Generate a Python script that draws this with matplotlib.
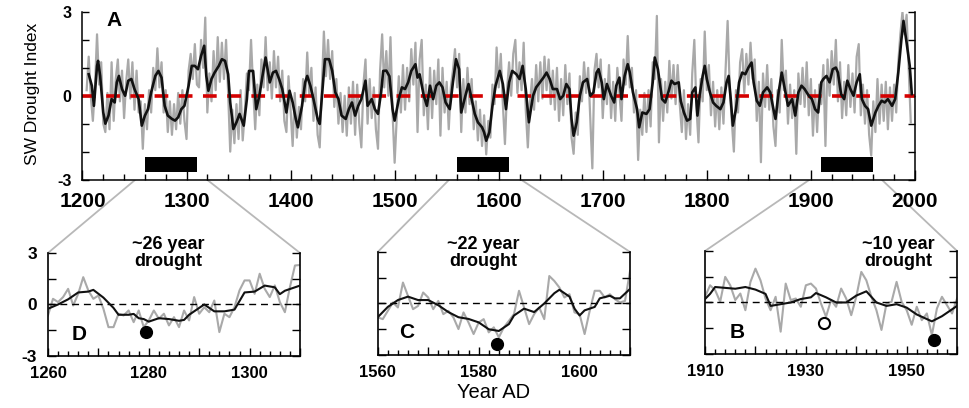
import numpy as np
import matplotlib
matplotlib.use("Agg")
import matplotlib.pyplot as plt
from matplotlib.patches import ConnectionPatch

plt.rcParams['font.family'] = ['Liberation Sans', 'DejaVu Sans']
plt.rcParams['axes.unicode_minus'] = False

# ---- main record (panel A) ----
# annual index, read every 2 years from 1204
gray_start = 1204
gray_vals = [
    0.2, 1.4, 0.0, -0.9, 0.3, 2.2, 0.4, 1.2, -1.0, -1.3, 0.1, -1.2, 1.2, -0.9, 0.6, 1.3, -0.2, 0.9, -0.8, 0.5, 1.3, -0.1, 1.2, -0.5,
    0.9, -0.6, -0.2, -1.9,
    -0.3, -1.2, 0.2, -0.6, 1.0, 0.2, 1.7, 0.3, 1.2, -0.6, 0.2, -1.3, -0.2, -1.4, -0.3, -1.2, 0.1, -1.0, 0.2, -0.9, -1.55, 0.9, 1.5, 0.6, 1.85, 0.4,
    0.3, 2.0, 1.0, 2.8, -0.6, 0.8, -0.2, 1.6, 0.2, 2.1, 0.5, 1.9, 0.6, 2.0, 0.1, -2.0, -0.5, -1.7, -0.3, -1.55,
    0.2, -1.6, -0.6, 0.8, 0.2, 2.0, 0.3, -1.2, 0.4, -0.7, 1.3, 0.3, 2.1, 0.2, 1.2, -0.1, 1.6, 0.3, 1.4, -0.2, 0.9, -0.9, -1.3, 0.7, -0.5,
    -1.8, 0.1, -1.5, -0.4, -1.2, 0.6, -0.2, 1.55, 0.0, 1.0, -0.9, 0.3, -1.4, -1.85, 0.2, 2.3, 0.7, 2.0, 0.6, 1.6, -0.4, 0.6, -1.0, 0.1, -1.3,
    0.0, -1.43, 0.3, -1.0, 0.5, -1.4, 0.4, -1.0, -1.85, 0.4, 1.3, -1.0, 0.6, -0.8, 0.3, -1.2, -1.9, 0.9, 2.2, 0.3, 1.6, 0.0, 2.1, -0.6, -2.4,
    -0.8, 0.7, -0.6, 1.1, -0.5, 1.0, -0.2, 1.67, 0.4, 1.9, -1.3, 1.3, 2.0, -0.7, 0.4, -1.2, 1.0, -0.8, 0.9, -0.3, 1.3, -1.43, 1.0, -0.6, 0.5,
    -1.2, 0.3, 0.9, 1.67,
    0.3, 1.5, -1.3, 0.6, -0.6, 1.0, -0.3, 0.6, -1.2, -0.2, -1.6, -0.5, -1.8, -0.7, -2.1, -0.9, -1.5, 0.4, -0.3, 1.73, 0.3, 1.5, -0.3, -1.73, 0.2, 1.2,
    0.0, 1.5, 2.0, 0.1, 1.2, 0.2, 1.9, -0.5, -1.85, -0.3, 0.6, -0.5, 1.1, -0.2, 1.2, -0.1, 1.4, 0.2, 1.3, -0.3, 0.9, -0.5, 1.0, -0.9, 0.6,
    -0.7, 1.1, -0.3, 0.8, -1.5, -2.08, -0.6, -1.4, 0.7, -0.2, 1.2, 0.1, 1.0, -0.8, -2.6, 0.9, 1.5, 0.3, 1.3, -0.8, 0.6, -0.3, 1.1, -0.8, 0.5,
    -0.9, 1.0, 0.1, -0.9, 1.3, 0.4, 2.14, 0.3, 1.0, -0.6, 0.2, -2.3, -0.5, -1.4, 0.1, -1.3, 0.2, -1.1, 1.2, 0.6, 2.86, -1.67, 0.6, -0.9, 0.5,
    -0.6, 1.25, -0.1, 1.1, -0.3, 1.1, -0.3, -1.3, 0.2, -1.55, -0.3, -1.4, 0.8, 2.0, -0.4, -1.67, 0.6, -0.2, 2.3, 0.2, 1.1, -0.7, 0.5, -1.1, 0.2,
    -1.2, 0.3, -1.0, 0.9, 2.68, 0.3, -0.9, -2.0, 0.2, -0.6, 1.2, 1.67, 0.1, 1.5, 0.4, 1.9, 0.6, 1.3, -0.9, 0.5, -2.38, 0.8, -0.4, 1.1, -0.5,
    0.6, -1.1, -1.8, 0.2, -0.6, 2.0, 0.2, 0.9, -1.0, 0.4, -0.8, 0.2, -2.08, 0.8, -0.3, 1.0, -0.4, 1.2, -0.7, 0.6, -1.43, 0.2, -1.3, 0.4, -0.3,
    1.1, -1.8, 1.3, 0.0, 1.6, 0.4, 2.0, -0.2, 1.2, -0.8, 0.5, -0.7, 1.1, -0.4, 0.8, -0.6, 1.4, 1.85, -0.7, 0.4, -1.0, 0.2, -1.4, -2.14, -0.2,
    -1.3, 0.6, -1.0, 0.4, -0.9, 0.5, -1.2, 0.3, -0.9, 0.4, -0.6, 1.2, 2.2, 3.0, 2.2, 2.9, 1.0, -0.95,
]
gray_years = np.arange(gray_start, gray_start + 2 * len(gray_vals), 2)

# smoothed index
smooth_years = [
    1206, 1209, 1211, 1214, 1215, 1217, 1220, 1222, 1225, 1228, 1231, 1233, 1235, 1238, 1241, 1244, 1247, 1250,
    1254, 1257, 1260, 1263, 1266, 1270, 1273, 1276, 1279, 1282, 1286, 1289, 1292, 1295, 1298,
    1302, 1305, 1308, 1311, 1314, 1317, 1319, 1321, 1324, 1327, 1331, 1334, 1337, 1340, 1342, 1345, 1348,
    1351, 1355, 1358, 1360, 1364, 1367, 1370, 1373, 1376, 1380, 1383, 1386, 1389, 1392, 1396, 1399,
    1402, 1405, 1407, 1411, 1414, 1416, 1419, 1422, 1426, 1428, 1431, 1433, 1437, 1440, 1443, 1446, 1449,
    1453, 1456, 1459, 1462, 1465, 1468, 1472, 1474, 1478, 1481, 1484, 1487, 1489, 1492, 1495, 1498, 1500,
    1504, 1507, 1510, 1513, 1516, 1520, 1522, 1524, 1528, 1531, 1534, 1537, 1540, 1543, 1546, 1549,
    1553, 1556, 1559, 1562, 1564, 1568, 1571, 1574, 1577, 1580, 1584, 1586, 1588, 1591, 1594, 1597,
    1601, 1604, 1607, 1610, 1613, 1617, 1620, 1623, 1626, 1629, 1633, 1636, 1640, 1643, 1646, 1649,
    1652, 1656, 1659, 1662, 1665, 1668, 1670, 1672, 1675, 1678, 1681, 1685, 1688, 1691, 1694, 1696, 1699,
    1701, 1704, 1708, 1711, 1713, 1716, 1718, 1721, 1724, 1726, 1729, 1733, 1735, 1738, 1742, 1745, 1748,
    1750, 1753, 1757, 1760, 1763, 1766, 1769, 1773, 1775, 1778, 1781, 1784, 1786, 1789, 1791, 1793, 1796, 1798,
    1800, 1803, 1806, 1809, 1813, 1816, 1819, 1821, 1823, 1825, 1828, 1831, 1834, 1837, 1840, 1843, 1845, 1848,
    1851, 1854, 1858, 1861, 1864, 1866, 1869, 1872, 1875, 1878, 1882, 1885, 1888, 1891, 1894, 1898,
    1901, 1904, 1907, 1910, 1912, 1915, 1918, 1921, 1924, 1926, 1929, 1932, 1935, 1938, 1941, 1944, 1947, 1949,
    1952, 1955, 1958, 1962, 1965, 1968, 1971, 1974, 1978, 1981, 1984, 1987, 1989, 1992, 1995, 1997,
]
smooth_vals = [
    0.77, 0.36, -0.36, 1.07, 1.25, 0.71, -0.60, -1.00, -0.71, -0.12, -0.24, 0.48, 0.71, 0.24, 0.00, 0.54, 0.60, 0.24,
    -0.12, -1.07, -0.71, -0.48, 0.12, 0.71, 0.89, 0.65, -0.36, -0.71, -0.83, -0.89, -0.77, -0.48, -0.36,
    0.36, 1.07, 1.07, 0.95, 1.43, 1.79, 0.71, 0.18, 0.60, 0.83, 1.07, 1.31, 1.25, 0.77, -0.24, -1.19, -0.95,
    -0.65, -1.07, -0.12, 0.89, 0.89, -0.48, 0.00, 0.71, 1.37, 0.48, 0.83, 0.89, 0.60, 0.24, -0.60, 0.18,
    -0.24, -0.83, -1.13, -0.36, 0.48, 0.71, 0.36, -0.12, -0.83, -1.01, 0.36, 1.31, 1.31, 0.89, 0.12, -0.12, -0.71,
    -0.83, -0.48, -0.24, -0.71, -0.36, -0.12, 0.54, -0.36, -0.12, -0.48, -0.65, 0.12, 0.89, 0.90, 0.70, -0.48, -0.89,
    -0.12, 0.30, 0.24, 0.48, 0.89, 1.13, 0.65, 0.77, 0.00, -0.36, 0.36, -0.12, 0.36, 0.48, 0.30, -0.24,
    -0.48, 0.48, 1.31, 0.95, -0.60, 0.00, 0.42, -0.12, -0.65, -0.95, -1.13, -1.31, -1.61, -1.31, -0.36, 0.36,
    0.89, 0.42, -0.48, 0.48, 0.89, 0.77, 0.60, 1.07, 0.24, -0.95, 0.00, 0.30, 0.50, 0.65, 0.83, 0.60,
    0.24, 0.24, -0.12, 0.00, 0.42, 0.24, -0.83, -1.43, -0.95, 0.00, 0.48, 0.60, 0.00, 0.12, 0.83, 0.95, 0.48,
    -0.12, 0.42, 0.00, -0.24, 0.36, 0.65, -0.12, 0.71, 1.13, 0.83, 0.12, -0.48, -1.13, -0.60, -0.65, -0.48, 0.48,
    1.37, 0.95, -0.12, -0.24, 0.12, 0.54, 0.42, 0.48, -0.20, -0.60, -0.89, -0.83, 0.12, 0.30, -0.71, 0.00, 0.71, 1.07,
    0.60, 0.12, -0.24, -0.36, -0.48, -0.24, 0.48, 0.71, -0.12, -1.07, -0.48, 0.48, 0.83, 0.77, 1.01, 1.19, 0.48, -0.18,
    -0.36, 0.12, 0.30, 0.12, -0.48, -0.83, 0.12, 0.83, 0.24, -0.36, -0.12, -0.71, 0.12, 0.36, 0.24, 0.00,
    -0.12, -0.48, -0.60, 0.48, 0.60, 0.71, 0.48, 0.95, 1.01, 0.83, 0.06, -0.12, 0.54, 0.24, 0.00, 0.48, 0.77, -0.12,
    -0.36, -0.48, -1.07, -0.60, -0.36, -0.18, -0.24, -0.12, -0.36, -0.12, 0.83, 2.02, 2.68, 1.90, 1.07, 0.06,
]

# drought windows shown as bars and enlarged below
window_starts = [1260, 1560, 1910]
window_len = 50
bar_bottom, bar_top = -2.72, -2.18

# ---- inset D: 1260-1310 ----
d_years = np.arange(1260, 1311)
d_gray = [-0.64, 0.33, 0.14, 0.43, 0.91, -0.06, 0.62, 1.59, 0.82, 0.33, 0.52, -0.25, -1.32, -1.32, -0.54, -0.64, -0.35,
          -1.03, -0.35, -1.32, -0.93, -0.35, -0.83, -0.54, -1.22, -0.74, -1.32, -0.35, -0.93, 0.43, -0.54, -0.16, -0.45,
          0.23, -1.61, -0.54, -0.74, -0.16, 0.82, 1.40, 1.40, 0.62, 1.79, 0.91, 0.43, 1.11, 0.14, -0.45, 1.01, 2.27, 2.3]
d_smooth_years = [1260, 1262, 1264, 1266, 1268, 1269, 1271, 1273, 1274, 1276, 1277, 1278, 1279, 1280, 1282, 1284, 1286,
                  1287, 1288, 1290, 1291, 1293, 1295, 1297, 1299, 1301, 1303, 1305, 1306, 1307, 1310]
d_smooth = [-0.25, 0.0, 0.3, 0.7, 0.75, 0.85, 0.4, -0.2, -0.6, -0.6, -0.55, -0.8, -0.85, -1.0, -0.8, -0.85, -0.95,
            -0.9, -0.6, -0.2, 0.0, -0.4, -0.4, -0.3, 0.7, 0.75, 1.1, 1.0, 0.6, 0.8, 1.1]

# ---- inset C: 1560-1610 ----
c_years = np.arange(1560, 1611)
c_gray = [-0.81, -0.91, -0.43, 0.06, -0.23, 1.22, 0.44, -0.33, -0.14, 0.64, 0.35, -0.33, 0.15, -0.62, -0.43, -0.81,
          -1.49, -0.52, -1.11, -1.78, -1.11, -0.91, -1.68, -1.39, -1.97, -1.39, -1.01, -0.62, 0.74, -0.23, -1.20,
          -0.62, -0.23, -0.91, 1.60, 1.31, 0.93, 0.35, 0.54, -0.52, -0.62, -1.78, -0.43, 0.74, 0.74, 0.35, 0.54,
          0.25, 0.06, 0.15, 1.90]
c_smooth_years = [1560, 1562, 1564, 1566, 1568, 1570, 1572, 1574, 1576, 1578, 1580, 1582, 1584, 1586, 1587, 1589,
                  1591, 1593, 1595, 1596, 1598, 1599, 1600, 1601, 1603, 1604, 1606, 1607, 1608, 1610]
c_smooth = [-0.8, -0.2, 0.2, 0.4, 0.2, 0.2, -0.1, -0.5, -0.8, -0.9, -1.1, -1.5, -1.6, -1.2, -0.7, -0.3,
            -0.5, 0.0, 0.6, 0.8, 0.4, -0.3, -0.7, -0.4, -0.2, 0.3, 0.45, 0.3, 0.3, 0.85]

# ---- inset B: 1910-1960 ----
b_years = np.arange(1910, 1961)
b_gray = [0.33, 1.0, 0.72, 0.04, 1.49, 1.0, 0.14, 0.52, -0.45, 1.19, 1.97, 1.29, 0.23, -0.45, 0.33, -1.70, 1.10,
          0.14, 0.23, -0.25, 1.0, 1.10, 0.81, -0.06, -0.83, 0.14, -0.25, 0.81, 0.23, -0.74, 0.33, 1.78, 1.29, 0.33,
          -0.45, -1.60, -0.06, 0.04, 1.20, 0.04, -0.45, -1.30, -0.25, -1.03, -0.64, -1.90, -0.35, 0.33, -0.16,
          -0.64, 0.23]
b_smooth_years = [1910, 1911, 1912, 1914, 1916, 1918, 1920, 1922, 1923, 1925, 1927, 1929, 1931, 1932, 1934, 1936,
                  1938, 1940, 1942, 1944, 1946, 1948, 1950, 1952, 1955, 1957, 1960]
b_smooth = [0.2, 0.5, 0.9, 0.85, 0.8, 0.9, 0.75, 0.5, -0.2, -0.1, 0.0, 0.2, 0.3, 0.55, 0.3, 0.0,
            0.0, 0.4, 0.65, 0.0, -0.2, -0.1, -0.3, -0.7, -1.1, -0.8, -0.2]

# marked drought years (filled = severe, open = moderate)
d_marks = ([1279.5], [-1.61])
c_marks = ([1583.6], [-2.36])
b_open = ([1933.5], [-1.18])
b_marks = ([1955.5], [-2.19])

GRAY = '#a9a9a9'
LINKGRAY = '#b8b8b8'

fig = plt.figure(figsize=(9.69, 4.08), dpi=100)

# main panel
ax = fig.add_axes([0.0851, 0.5600, 0.8591, 0.4106])
ax.plot(gray_years, gray_vals, color=GRAY, lw=1.6, zorder=1)
ax.plot(smooth_years, smooth_vals, color='#111111', lw=1.9, zorder=3)
ax.axhline(0, color='#d40000', lw=2.6, dashes=(3.8, 2.9), zorder=2)
ax.bar(window_starts, bar_top - bar_bottom, width=window_len, bottom=bar_bottom, align='edge',
       color='black', zorder=4)
ax.set_xlim(1200, 2000)
ax.set_ylim(-3, 3)
ax.set_xticks(np.arange(1200, 2001, 100))
ax.set_xticks(np.arange(1200, 2001, 20), minor=True)
ax.set_yticks([-3, -2, -1, 0, 1, 2, 3])
ax.set_yticklabels(['-3', '', '', '0', '', '', '3'])
ax.spines['top'].set_visible(False)
for s in ['left', 'right', 'bottom']:
    ax.spines[s].set_linewidth(1.1)
ax.tick_params(axis='both', which='both', direction='in', right=True, top=False, width=1.0)
ax.tick_params(axis='x', which='major', length=7, labelsize=15, pad=9)
ax.tick_params(axis='x', which='minor', length=4.5)
ax.tick_params(axis='y', which='major', length=5, labelsize=11.5, pad=8)
for lab in ax.get_xticklabels() + ax.get_yticklabels():
    lab.set_fontweight('bold')
ax.text(0.038, 0.95, 'A', transform=ax.transAxes, fontsize=15, fontweight='bold', ha='center', va='center')
fig.text(0.034, 0.77, 'SW Drought Index', rotation=90, fontsize=12.5, ha='center', va='center')


def inset(rect, years, gray, sm_years, sm, x0, ylabels):
    a = fig.add_axes(rect)
    a.plot(years, gray, color=GRAY, lw=1.5, zorder=1)
    a.plot(sm_years, sm, color='#111111', lw=1.5, zorder=3)
    a.axhline(0, color='black', lw=1.0, dashes=(5, 3.5), zorder=2)
    a.set_xlim(x0, x0 + 50)
    a.set_ylim(-3, 3)
    a.set_xticks(np.arange(x0, x0 + 51, 10))
    a.set_xticklabels([str(v) if (v - x0) % 20 == 0 else '' for v in range(x0, x0 + 51, 10)])
    a.set_xticks(np.arange(x0, x0 + 51, 2), minor=True)
    a.set_yticks([-3, -1.5, 0, 1.5, 3])
    if ylabels:
        a.set_yticklabels(['-3', '', '0', '', '3'])
    else:
        a.set_yticklabels([])
    a.spines['top'].set_visible(False)
    for s in ['left', 'right', 'bottom']:
        a.spines[s].set_linewidth(1.2)
    a.tick_params(axis='both', which='both', direction='in', right=True, top=False, width=1.0)
    a.tick_params(axis='x', which='major', length=6, labelsize=12, pad=7)
    a.tick_params(axis='x', which='minor', length=3.5)
    a.tick_params(axis='y', which='major', length=5.5, labelsize=12.5, pad=8)
    for lab in a.get_xticklabels() + a.get_yticklabels():
        lab.set_fontweight('bold')
    return a


axD = inset([0.0495, 0.1275, 0.2601, 0.2525], d_years, d_gray, d_smooth_years, d_smooth, 1260, True)
axC = inset([0.3898, 0.1299, 0.2604, 0.2525], c_years, c_gray, c_smooth_years, c_smooth, 1560, False)
axB = inset([0.7276, 0.1324, 0.2601, 0.2525], b_years, b_gray, b_smooth_years, b_smooth, 1910, False)

axD.plot(*d_marks, 'o', color='black', ms=8.5, zorder=5)
axC.plot(*c_marks, 'o', color='black', ms=8.5, zorder=5, clip_on=False)
axB.plot(*b_open, 'o', mfc='white', mec='black', mew=1.5, ms=8, zorder=5)
axB.plot(*b_marks, 'o', color='black', ms=8.5, zorder=5)

axD.text(0.123, 0.204, 'D', transform=axD.transAxes, fontsize=15, fontweight='bold', ha='center', va='center')
axC.text(0.116, 0.214, 'C', transform=axC.transAxes, fontsize=15, fontweight='bold', ha='center', va='center')
axB.text(0.127, 0.204, 'B', transform=axB.transAxes, fontsize=15, fontweight='bold', ha='center', va='center')

axD.text(0.476, 1.0, '~26 year\ndrought', transform=axD.transAxes, fontsize=13, fontweight='bold',
         ha='center', va='center', linespacing=1.05)
axC.text(0.417, 0.99, '~22 year\ndrought', transform=axC.transAxes, fontsize=13, fontweight='bold',
         ha='center', va='center', linespacing=1.05)
axB.text(0.766, 0.98, '~10 year\ndrought', transform=axB.transAxes, fontsize=13, fontweight='bold',
         ha='center', va='center', linespacing=1.05)

fig.text(0.509, 0.037, 'Year AD', fontsize=14.5, ha='center', va='center')

# links from the bars to the enlarged panels
for start, sub in zip(window_starts, [axD, axC, axB]):
    for xx in (start, start + window_len):
        con = ConnectionPatch(xyA=(xx, bar_bottom), coordsA=ax.transData,
                              xyB=(xx, 3), coordsB=sub.transData,
                              color=LINKGRAY, lw=1.3, zorder=0)
        fig.add_artist(con)

fig.savefig('out.png', dpi=100)
